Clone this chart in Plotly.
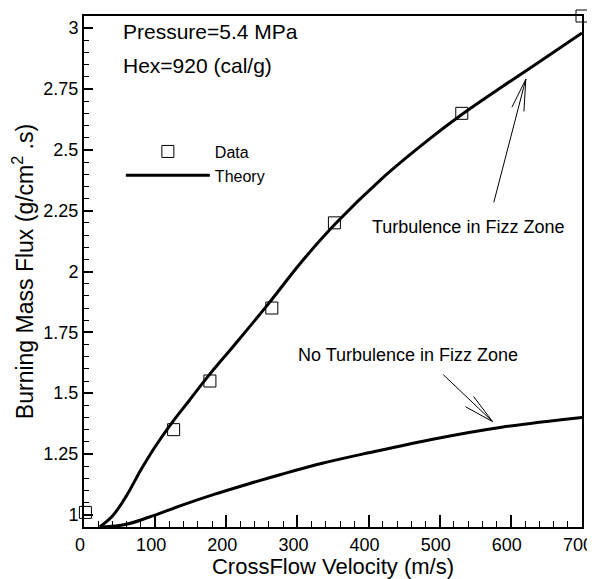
import plotly.graph_objects as go

# ---- data ----
data_velocity = [2, 126, 177, 264, 352, 531, 700]
data_flux = [1.01, 1.35, 1.55, 1.85, 2.20, 2.65, 3.05]

turb_velocity = [22, 40, 60, 80, 100, 124, 148, 176, 212, 260, 303, 353, 418, 488, 531, 583, 634, 700]
turb_flux = [0.95, 0.995, 1.08, 1.185, 1.28, 1.38, 1.47, 1.575, 1.70, 1.87, 2.03, 2.195, 2.38, 2.55, 2.645, 2.75, 2.85, 2.98]

noturb_velocity = [25, 58, 91, 138, 184, 232, 278, 335, 400, 494, 587, 700]
noturb_flux = [0.95, 0.96, 0.99, 1.04, 1.085, 1.128, 1.167, 1.212, 1.255, 1.313, 1.36, 1.40]

x_tickvals = [0, 100, 200, 300, 400, 500, 600, 700]
x_ticktext = ["0", "100", "200", "300", "400", "500", "600", "700"]
y_tickvals = [1, 1.25, 1.5, 1.75, 2, 2.25, 2.5, 2.75, 3]
y_ticktext = ["1", "1.25", "1.5", "1.75", "2", "2.25", "2.5", "2.75", "3"]

FONT = "Arial, Liberation Sans, sans-serif"

fig = go.Figure()
fig.add_trace(go.Scatter(
    x=data_velocity, y=data_flux, mode="markers", name="Data",
    marker=dict(symbol="square-open", size=12, color="black", line=dict(width=1, color="black")),
    cliponaxis=False,
))
fig.add_trace(go.Scatter(
    x=turb_velocity, y=turb_flux, mode="lines", name="Theory",
    line=dict(color="black", width=3, shape="spline", smoothing=1.0),
))
fig.add_trace(go.Scatter(
    x=noturb_velocity, y=noturb_flux, mode="lines", name="Theory", showlegend=False,
    line=dict(color="black", width=3, shape="spline", smoothing=1.0),
))

# arrows (annotation decorations)
def arrow_path(tail, tip, b1, b2):
    return (f"M{tail[0]},{tail[1]} L{tip[0]},{tip[1]} "
            f"M{b1[0]},{b1[1]} L{tip[0]},{tip[1]} L{b2[0]},{b2[1]}")

shapes = [
    dict(type="path", xref="x", yref="y",
         path=arrow_path((576, 2.284), (621, 2.79), (601.5, 2.675), (618.4, 2.658)),
         line=dict(color="black", width=1)),
    dict(type="path", xref="x", yref="y",
         path=arrow_path((505, 1.576), (574.4, 1.383), (547.6, 1.486), (536.4, 1.444)),
         line=dict(color="black", width=1)),
]

annotations = [
    dict(text="Pressure=5.4 MPa", xref="paper", yref="paper", x=0.074, y=0.969,
         xanchor="left", yanchor="middle", showarrow=False, font=dict(size=21, family=FONT, color="black")),
    dict(text="Hex=920 (cal/g)", xref="paper", yref="paper", x=0.074, y=0.904,
         xanchor="left", yanchor="middle", showarrow=False, font=dict(size=21, family=FONT, color="black")),
    dict(text="Turbulence in Fizz Zone", xref="paper", yref="paper", x=0.574, y=0.587,
         xanchor="left", yanchor="middle", showarrow=False, font=dict(size=18, family=FONT, color="black")),
    dict(text="No Turbulence in Fizz Zone", xref="paper", yref="paper", x=0.426, y=0.336,
         xanchor="left", yanchor="middle", showarrow=False, font=dict(size=18, family=FONT, color="black")),
]

# the page body adds an 8px offset, so the figure is sized to fit the 595x579 window
fig.update_layout(
    width=587, height=571,
    margin=dict(l=76, r=13, t=8, b=52, autoexpand=False),
    paper_bgcolor="white", plot_bgcolor="white",
    font=dict(family=FONT, color="black"),
    shapes=shapes, annotations=annotations,
    legend=dict(x=0.074, y=0.768, xanchor="left", yanchor="top", itemwidth=84,
                font=dict(size=16, family=FONT), bgcolor="rgba(0,0,0,0)", tracegroupgap=0),
    xaxis=dict(
        range=[0, 700], tickvals=x_tickvals, ticktext=x_ticktext,
        ticks="inside", ticklen=12, tickwidth=1.5, tickcolor="black",
        minor=dict(dtick=20, tick0=0, ticks="inside", ticklen=6, tickwidth=1, tickcolor="black"),
        showline=True, linewidth=2, linecolor="black", mirror=True,
        showgrid=False, zeroline=False, ticklabeloverflow="allow", automargin=False,
        ticklabelshift=-4,
        tickfont=dict(size=18, family=FONT),
        title=dict(text="CrossFlow Velocity (m/s)", font=dict(size=22, family=FONT), standoff=6),
    ),
    yaxis=dict(
        range=[0.95, 3.05], tickvals=y_tickvals, ticktext=y_ticktext,
        ticks="inside", ticklen=9, tickwidth=1.5, tickcolor="black",
        minor=dict(dtick=0.05, tick0=1, ticks="inside", ticklen=5, tickwidth=1, tickcolor="black"),
        showline=True, linewidth=2, linecolor="black", mirror=True,
        showgrid=False, zeroline=False, ticklabeloverflow="allow", automargin=False,
        tickfont=dict(size=18, family=FONT),
        title=dict(text="Burning Mass Flux (g/cm<sup>2</sup> .s)", font=dict(size=23, family=FONT), standoff=10),
    ),
)

fig.write_html("out.html")
